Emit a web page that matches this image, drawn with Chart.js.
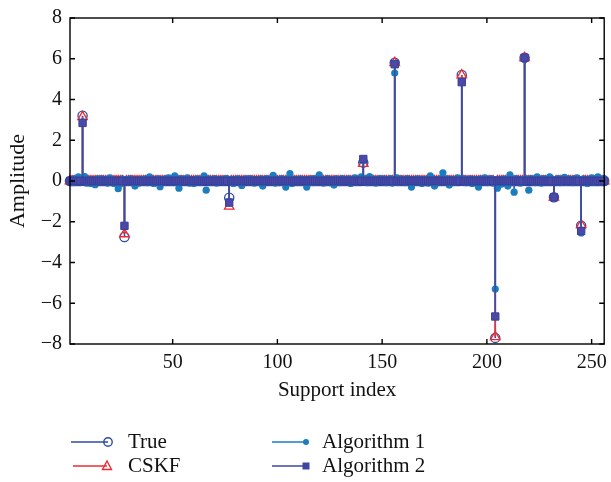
<!DOCTYPE html>
<html>
<head>
<meta charset="utf-8">
<script src="https://cdn.jsdelivr.net/npm/chart.js@4.4.0/dist/chart.umd.min.js"></script>
<style>
html, body { margin: 0; padding: 0; background: #fff; }
#wrap { width: 611px; height: 482px; }
</style>
</head>
<body>
<div id="wrap"><canvas id="stemChart"></canvas></div>
<script>
// sparse support (index 1..256) and amplitudes
var supportIdx = [7, 27, 77, 141, 156, 188, 204, 218, 232, 245];
var trueAmp    = [3.20, -2.75, -0.82, 0.90, 5.80, 5.20, -7.70, 6.05, -0.80, -2.20];
var cskfAmp    = [3.15, -2.60, -1.25, 0.85, 5.80, 5.20, -7.65, 6.05, -0.80, -2.15];
var alg2Amp    = [2.85, -2.20, -1.06, 1.08, 5.73, 4.85, -6.65, 6.05, -0.80, -2.45];

// Algorithm 1 is not sparse, every index has a small value
var alg1Vals = [
  0.05, -0.08, 0.10, -0.05, 0.20, 0.12, 2.90, 0.22, -0.10, 0.08, -0.12, 0.05, -0.18, 0.10, -0.06, 0.12,
  -0.05, 0.08, -0.10, 0.15, 0.06, -0.12, 0.04, -0.38, -0.15, 0.10, -2.20, 0.08, -0.05, 0.12, -0.08, -0.25,
  0.05, -0.10, 0.08, -0.05, 0.10, -0.08, 0.20, 0.06, -0.12, 0.05, 0.10, -0.28, 0.08, -0.06, 0.12, 0.15,
  -0.05, 0.10, 0.25, -0.08, -0.35, 0.12, -0.05, 0.08, 0.15, -0.10, 0.05, -0.12, 0.08, 0.10, -0.06, 0.05,
  0.25, -0.45, 0.10, -0.05, 0.08, 0.12, -0.10, 0.05, 0.08, -0.05, 0.10, 0.12, -1.00, 0.08, -0.12, 0.05,
  0.10, -0.08, -0.22, 0.06, 0.10, -0.05, 0.12, 0.08, -0.10, 0.05, -0.06, 0.10, -0.25, 0.08, 0.12, -0.05,
  0.05, 0.28, -0.10, 0.06, -0.08, 0.12, 0.05, -0.30, 0.10, 0.36, -0.12, 0.05, 0.08, -0.06, 0.10, -0.05,
  0.08, -0.30, 0.05, 0.10, -0.08, 0.12, -0.05, 0.30, 0.08, -0.10, 0.05, 0.12, -0.08, 0.06, -0.20, 0.10,
  0.05, -0.08, 0.12, -0.05, 0.08, 0.10, -0.12, 0.05, 0.15, -0.06, 0.08, 0.20, 1.00, 0.10, -0.08, 0.22,
  -0.05, 0.08, -0.10, 0.06, 0.12, -0.05, 0.10, -0.08, 0.05, 0.12, -0.10, 5.30, 0.15, -0.06, 0.10, 0.05,
  -0.08, 0.12, 0.05, -0.30, 0.08, -0.05, 0.10, 0.06, -0.12, 0.08, 0.05, -0.10, 0.25, 0.08, -0.25, 0.05,
  -0.08, 0.12, 0.40, -0.05, 0.10, -0.20, 0.08, 0.05, -0.06, 0.15, 0.10, 4.90, 0.12, -0.08, 0.05, 0.10,
  -0.12, 0.08, 0.05, -0.30, 0.10, 0.06, 0.15, -0.08, 0.05, 0.12, -0.10, -5.30, -0.35, 0.08, -0.15, 0.10,
  0.05, -0.25, 0.30, -0.08, -0.55, 0.12, 0.05, -0.10, 0.08, 6.05, 0.10, -0.45, 0.12, 0.06, -0.08, 0.20,
  0.05, -0.10, 0.12, 0.08, -0.05, 0.20, 0.10, -0.80, 0.06, 0.12, -0.08, 0.05, 0.18, -0.06, 0.10, 0.05,
  -0.08, 0.12, 0.15, -0.05, -2.55, 0.10, 0.05, -0.12, 0.08, 0.15, -0.06, 0.10, 0.20, -0.05, 0.08, 0.12
];

var xTicks = [50, 100, 150, 200, 250];
var yTicks = [-8, -6, -4, -2, 0, 2, 4, 6, 8];
var seriesNames = ['True', 'CSKF', 'Algorithm 1', 'Algorithm 2'];

var FONT = 'Liberation Serif';

// turn the sparse lists into full 256 point series
function sparseSeries(amps) {
  var out = [];
  for (var i = 1; i <= 256; i++) {
    var k = supportIdx.indexOf(i);
    out.push({x: i, y: k >= 0 ? amps[k] : 0});
  }
  return out;
}
var alg1Data = alg1Vals.map(function(v, j) { return {x: j + 1, y: v}; });

// stems: vertical line from zero to each point, drawn just under that dataset's markers
var stemPlugin = {
  id: 'stems',
  beforeDatasetDraw: function(chart, args) {
    var ds = chart.data.datasets[args.index];
    var y0 = chart.scales.y.getPixelForValue(0);
    var ctx = chart.ctx;
    ctx.save();
    ctx.strokeStyle = ds.stemColor;
    ctx.lineWidth = 1.6;
    ctx.beginPath();
    args.meta.data.forEach(function(pt, j) {
      if (Math.abs(ds.data[j].y) < 0.5) return;
      ctx.moveTo(pt.x, y0);
      ctx.lineTo(pt.x, pt.y);
    });
    ctx.stroke();
    ctx.restore();
  }
};

// box around the plot with inward ticks on all sides
var framePlugin = {
  id: 'frame',
  afterDatasetsDraw: function(chart) {
    var a = chart.chartArea, ctx = chart.ctx;
    var xs = chart.scales.x, ys = chart.scales.y;
    var tl = 5;
    ctx.save();
    ctx.strokeStyle = '#000';
    ctx.lineWidth = 1.4;
    ctx.strokeRect(a.left, a.top, a.right - a.left, a.bottom - a.top);
    ctx.beginPath();
    xTicks.forEach(function(v) {
      var px = xs.getPixelForValue(v);
      ctx.moveTo(px, a.bottom); ctx.lineTo(px, a.bottom - tl);
      ctx.moveTo(px, a.top); ctx.lineTo(px, a.top + tl);
    });
    yTicks.forEach(function(v) {
      var py = ys.getPixelForValue(v);
      ctx.moveTo(a.left, py); ctx.lineTo(a.left + tl, py);
      ctx.moveTo(a.right, py); ctx.lineTo(a.right - tl, py);
    });
    ctx.stroke();
    ctx.restore();
  }
};

// two column legend under the axis: line sample + marker + name
function drawMarker(ctx, style, x, y) {
  ctx.beginPath();
  if (style === 'circle') {
    ctx.arc(x, y, 4.2, 0, Math.PI * 2);
    ctx.stroke();
  } else if (style === 'triangle') {
    ctx.moveTo(x, y - 5); ctx.lineTo(x + 4.5, y + 3.5); ctx.lineTo(x - 4.5, y + 3.5); ctx.closePath();
    ctx.stroke();
  } else if (style === 'dot') {
    ctx.arc(x, y, 3, 0, Math.PI * 2);
    ctx.fill();
  } else {
    ctx.rect(x - 3.5, y - 3.5, 7, 7);
    ctx.fill();
  }
}
var legendPlugin = {
  id: 'stemLegend',
  afterDraw: function(chart) {
    var ctx = chart.ctx;
    var items = [
      {x1: 71, x2: 108, tx: 128, y: 442, color: '#2f4aa6', style: 'circle'},
      {x1: 73, x2: 107, tx: 128, y: 466, color: '#ee2a30', style: 'triangle'},
      {x1: 272, x2: 306, tx: 322, y: 442, color: '#1b7cc0', style: 'dot'},
      {x1: 272, x2: 306, tx: 322, y: 466, color: '#3e46a2', style: 'square'}
    ];
    ctx.save();
    items.forEach(function(it, k) {
      ctx.strokeStyle = it.color;
      ctx.fillStyle = it.color;
      ctx.lineWidth = 1.4;
      ctx.beginPath();
      ctx.moveTo(it.x1, it.y); ctx.lineTo(it.x2, it.y);
      ctx.stroke();
      drawMarker(ctx, it.style, it.x2, it.y);
      ctx.fillStyle = '#111';
      ctx.font = '21px "' + FONT + '"';
      ctx.textAlign = 'left';
      ctx.textBaseline = 'middle';
      ctx.fillText(seriesNames[k], it.tx, it.y);
    });
    ctx.restore();
  }
};

var ctx = document.getElementById('stemChart').getContext('2d');
var myChart = new Chart(ctx, {
  type: 'scatter',
  data: {
    datasets: [
      {
        label: seriesNames[0], data: sparseSeries(trueAmp), order: 4, clip: false,
        pointStyle: 'circle', pointRadius: 4.6, borderWidth: 1.3,
        borderColor: '#2f4aa6', backgroundColor: 'rgba(0,0,0,0)', stemColor: '#2f4aa6'
      },
      {
        label: seriesNames[1], data: sparseSeries(cskfAmp), order: 3, clip: false,
        pointStyle: 'triangle', pointRadius: 5.5, borderWidth: 1.3,
        borderColor: '#ee2a30', backgroundColor: 'rgba(0,0,0,0)', stemColor: '#e8353c'
      },
      {
        label: seriesNames[2], data: alg1Data, order: 2, clip: false,
        pointStyle: 'circle', pointRadius: 3.6, borderWidth: 0,
        borderColor: '#1b7cc0', backgroundColor: '#1b7cc0', stemColor: '#2a5db0'
      },
      {
        label: seriesNames[3], data: sparseSeries(alg2Amp), order: 1, clip: false,
        pointStyle: 'rect', pointRadius: 5.2, borderWidth: 1,
        borderColor: '#3b3f9c', backgroundColor: '#4a4aa6', stemColor: '#3a4ea3'
      }
    ]
  },
  options: {
    responsive: true,
    maintainAspectRatio: false,
    animation: false,
    events: [],
    layout: { padding: { top: 18, right: 4, bottom: 79, left: 0 } },
    plugins: { legend: { display: false }, tooltip: { enabled: false } },
    scales: {
      x: {
        type: 'linear', min: 1, max: 256,
        afterBuildTicks: function(s) { s.ticks = xTicks.map(function(v) { return {value: v}; }); },
        afterFit: function(s) { s.height = 59; s.paddingLeft = 0; s.paddingRight = 0; },
        grid: { display: false, drawTicks: false },
        border: { display: false },
        ticks: { padding: 7, color: '#111', maxRotation: 0, font: { family: FONT, size: 20 } },
        title: { display: true, text: 'Support index', color: '#111', padding: { top: 0, bottom: 0 },
                 font: { family: FONT, size: 21 } }
      },
      y: {
        type: 'linear', min: -8, max: 8,
        afterBuildTicks: function(s) { s.ticks = yTicks.map(function(v) { return {value: v}; }); },
        afterFit: function(s) { s.width = 70; s.paddingTop = 0; s.paddingBottom = 0; },
        grid: { display: false, drawTicks: false },
        border: { display: false },
        ticks: {
          padding: 8, color: '#111', font: { family: FONT, size: 20 },
          callback: function(v) { return String(v).replace('-', '\u2212'); }
        },
        title: { display: true, text: 'Amplitude', color: '#111', padding: { top: 5, bottom: 0 },
                 font: { family: FONT, size: 22 } }
      }
    }
  },
  plugins: [stemPlugin, framePlugin, legendPlugin]
});
</script>
</body>
</html>
